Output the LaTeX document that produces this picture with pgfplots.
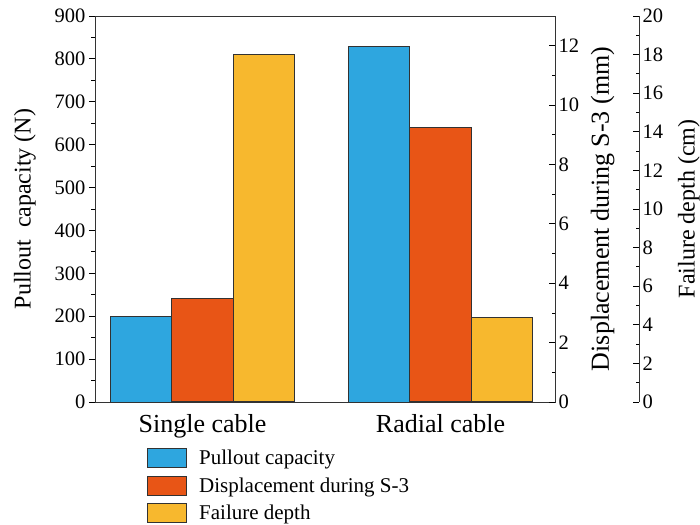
\documentclass[border=0pt]{standalone}
\usepackage{fontspec}
\setmainfont{Liberation Serif}
\usepackage{pgfplots}
\pgfplotsset{compat=1.18}

\definecolor{pullBlue}{RGB}{46,166,223}
\definecolor{dispOrange}{RGB}{232,85,22}
\definecolor{depthYellow}{RGB}{247,184,46}
\definecolor{edgeGray}{RGB}{50,50,50}

\pgfplotsset{
  common/.style={
    width=460pt, height=386pt, scale only axis,
    at={(95pt,122pt)}, anchor=south west,
    xmin=-0.452, xmax=1.481,
    ybar, bar width=0.258, ymin=0,
    /pgf/number format/assume math mode=true,
    tick style={black, line width=0.8pt},
    major tick length=6pt, minor tick length=3.5pt,
    axis line style={black!80, line width=0.9pt},
    tick label style={font=\fontsize{20.5}{22}\selectfont},
    label style={font=\fontsize{24}{26}\selectfont},
  },
  bars/.style={draw=edgeGray, line width=1pt},
}

\begin{document}
\begin{tikzpicture}
\path[use as bounding box] (0,0) rectangle (700pt,524pt);

% left axis: pullout capacity, also carries the legend
\begin{axis}[common,
    ymax=900, ytick={0,100,...,900}, minor y tick num=1,
    ytick pos=left, tick align=outside,
    xtick={0,1}, xticklabels={Single cable, Radial cable},
    x tick label style={font=\fontsize{26}{28}\selectfont, yshift=-3pt},
    major x tick style={draw=none},
    ylabel={Pullout\ \ capacity (N)},
    ylabel shift=12pt,
    legend style={at={(0.113,-0.119)}, anchor=north west, draw=none, fill=none,
        font=\fontsize{21}{23}\selectfont, row sep=7.5pt, inner sep=0pt,
        /tikz/every odd column/.append style={column sep=10pt}},
    legend cell align=left,
    legend image code/.code={\draw[#1, line width=1pt] (0pt,-9.5pt) rectangle (39pt,9.5pt);},
]
\addplot[bars, fill=pullBlue, bar shift=-0.258, forget plot] coordinates {(0,200) (1,830)};
\addlegendimage{fill=pullBlue, draw=edgeGray}
\addlegendentry{Pullout capacity}
\addlegendimage{fill=dispOrange, draw=edgeGray}
\addlegendentry{Displacement during S-3}
\addlegendimage{fill=depthYellow, draw=edgeGray}
\addlegendentry{Failure depth}
\end{axis}

% first right axis: displacement
\begin{axis}[common,
    ymax=13, ytick={0,2,...,12}, minor y tick num=1,
    axis y line*=right, axis x line=none, tick align=inside,
    ylabel={Displacement during S-3 (mm)},
    ylabel style={font=\fontsize{26}{28}\selectfont},
    ylabel shift=5pt,
]
\addplot[bars, fill=dispOrange, bar shift=0] coordinates {(0,3.5) (1,9.25)};
\end{axis}

% second right axis, shifted outwards: failure depth
\begin{axis}[common,
    ymax=20, ytick={0,2,...,20}, minor y tick num=1,
    axis y line*=right, axis x line=none, tick align=inside,
    axis y line shift=84pt,
    ylabel={Failure depth (cm)},
    ylabel shift=8pt,
]
\addplot[bars, fill=depthYellow, bar shift=0.258] coordinates {(0,18) (1,4.4)};
\end{axis}
\end{tikzpicture}
\end{document}
